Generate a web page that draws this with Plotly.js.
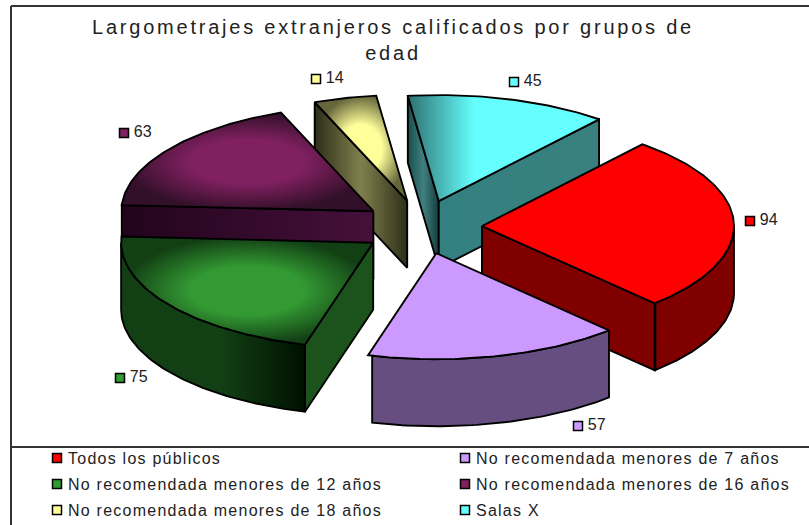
<!DOCTYPE html>
<html>
<head>
<meta charset="utf-8">
<script src="https://cdn.plot.ly/plotly-3.0.1.min.js"></script>
<style>
html,body{margin:0;padding:0;background:#fff;}
text[class*="legend"]{letter-spacing:1.24px;}
.legendsymbols{transform:translateX(9px);}
.gtitle{letter-spacing:2.78px;}
</style>
</head>
<body>
<div id="chart" style="width:809px;height:525px;"></div>
<script>
// ---- data ----
const categories = [
  "Todos los públicos",
  "No recomendada menores de 7 años",
  "No recomendada menores de 12 años",
  "No recomendada menores de 16 años",
  "No recomendada menores de 18 años",
  "Salas X"
];
const values = [94, 57, 75, 63, 14, 45];
const titleLines = ["Largometrajes extranjeros calificados por grupos de", "edad"];

// ---- styles ----
const swatch = ["#ff0000", "#cc99ff", "#339933", "#802060", "#ffff99", "#66ffff"];
const topEdge = ["#ff0000", "#cc99ff", "#123f14", "#331029", "#66663d", "#2e7070"];
const arcWall = [
  [[0, "#800000"], [1, "#800000"]],
  [[0, "#664e80"], [1, "#664e80"]],
  [[0, "#123f14"], [0.55, "#123f14"], [1, "#001000"]],
  [[0, "#000"], [1, "#000"]],
  [[0, "#000"], [1, "#000"]],
  [[0, "#000"], [1, "#000"]]
];
const startWall = [
  [[0, "#800000"], [1, "#800000"]],
  [[0, "#664e80"], [1, "#664e80"]],
  [[0, "#1c521c"], [1, "#1c521c"]],
  [[0, "#22041c"], [1, "#45103a"]],
  [[0, "#2e2e1a"], [0.5, "#80804d"], [1, "#2e2e1a"]],
  [[0, "#1a4d4d"], [0.5, "#408080"], [1, "#143c3c"]]
];
const endWall = [
  [[0, "#800000"], [1, "#800000"]],
  [[0, "#664e80"], [1, "#664e80"]],
  [[0, "#1c521c"], [1, "#1c521c"]],
  [[0, "#45103a"], [1, "#45103a"]],
  [[0, "#80804d"], [1, "#80804d"]],
  [[0, "#338080"], [1, "#3a8080"]]
];
const drawOrder = [5, 4, 3, 2, 0, 1];
const labelX = [750, 578, 120, 124, 316, 514];
const labelY = [221, 426, 378, 133, 79, 82];
const legendColumn = ["legend", "legend2", "legend", "legend2", "legend", "legend2"];

// ---- pie projection (in the axis units of the hidden axes) ----
const cx = 422, cy = 227, rx = 252, ry = 106, depth = 67, pullX = 60, pullY = 27;
const startAngle = 50.5;
const rad = d => d * Math.PI / 180;
const total = values.reduce((a, b) => a + b, 0);

const traces = [];
function poly(xs, ys, grad, flat) {
  const t = {
    type: "scatter", mode: "lines", x: xs, y: ys, fill: "toself",
    line: {color: "#000", width: 1.9}, hoverinfo: "skip", showlegend: false
  };
  if (grad) t.fillgradient = grad; else t.fillcolor = flat;
  traces.push(t);
}
const spanOf = [];
let acc = startAngle;
values.forEach(v => { const s = v / total * 360; spanOf.push([acc, acc - s]); acc -= s; });

drawOrder.forEach(i => {
  const [a0, a1] = spanOf[i];
  const mid = rad((a0 + a1) / 2);
  const ox = cx + pullX * Math.cos(mid), oy = cy - pullY * Math.sin(mid);
  const px = a => ox + rx * Math.cos(rad(a));
  const py = a => oy - ry * Math.sin(rad(a));
  const hg = (cs, xa, xb) => ({type: "horizontal", colorscale: cs, start: Math.min(xa, xb), stop: Math.max(xa, xb)});
  const side = (a, cs) => {
    const xs = [ox, px(a), px(a), ox, ox], ys = [oy, py(a), py(a) + depth, oy + depth, oy];
    poly(xs, ys, hg(cs, ox, px(a)));
  };
  // radial faces turned towards the viewer
  if (Math.cos(rad(a0)) < 0) side(a0, startWall[i]);
  if (Math.cos(rad(a1)) > 0) side(a1, endWall[i]);
  // outer wall: the part of the rim in the front half
  const front = [];
  for (let a = a0; a >= a1 - 1e-6; a -= 1) {
    if (Math.sin(rad(a)) < 0) front.push(a);
  }
  if (front.length > 1) {
    const xs = front.map(px).concat(front.slice().reverse().map(px));
    const ys = front.map(py).concat(front.slice().reverse().map(a => py(a) + depth));
    xs.push(xs[0]); ys.push(ys[0]);
    poly(xs, ys, hg(arcWall[i], Math.min(...xs), Math.max(...xs)));
  }
  // top face
  const tx = [ox], ty = [oy];
  for (let a = a0; a > a1; a -= 1) { tx.push(px(a)); ty.push(py(a)); }
  tx.push(px(a1), ox); ty.push(py(a1), oy);
  const flatTop = swatch[i] === topEdge[i];
  let grad = null;
  if (!flatTop) {
    grad = i === 5
      ? hg([[0, topEdge[i]], [0.35, swatch[i]], [1, swatch[i]]], Math.min(...tx), Math.max(...tx))
      : {type: "radial", colorscale: [[0, swatch[i]], [0.45, swatch[i]], [1, topEdge[i]]]};
  }
  poly(tx, ty, grad, swatch[i]);
});

// value labels
traces.push({
  type: "scatter", mode: "markers+text", x: labelX, y: labelY,
  text: values.map(v => "\u2009" + v), textposition: "middle right",
  textfont: {family: "Liberation Sans, Arial, sans-serif", size: 16, color: "#222"},
  marker: {symbol: "square", size: 9, color: swatch, line: {color: "#000", width: 1.5}},
  hoverinfo: "skip", showlegend: false, cliponaxis: false
});

// legend entries
categories.forEach((c, i) => traces.push({
  type: "scatter", mode: "markers", x: [null], y: [null], name: c, showlegend: true,
  legend: legendColumn[i], legendgroup: "g" + i,
  marker: {symbol: "square", size: 9, color: swatch[i], line: {color: "#000", width: 1.5}}
}));

const legendBase = {
  xanchor: "left", y: 1 - 441 / 525, yanchor: "top", traceorder: "grouped", tracegroupgap: 2.2,
  font: {family: "Liberation Sans, Arial, sans-serif", size: 16, color: "#222"},
  bgcolor: "rgba(0,0,0,0)"
};
const frame = {color: "#333", width: 2};
const layout = {
  width: 809, height: 525, autosize: false,
  margin: {l: 0, r: 0, t: 0, b: 0, autoexpand: false},
  paper_bgcolor: "#fff", plot_bgcolor: "#fff",
  title: {
    text: titleLines.join("<br>"),
    font: {family: "Liberation Sans, Arial, sans-serif", size: 20, color: "#222"},
    x: 393 / 809, xanchor: "center", y: 1 - 34 / 525, yanchor: "top"
  },
  xaxis: {range: [0, 809], visible: false, fixedrange: true},
  yaxis: {range: [525, 0], visible: false, fixedrange: true},
  legend: Object.assign({}, legendBase, {x: 28 / 809}),
  legend2: Object.assign({}, legendBase, {x: 436 / 809}),
  shapes: [
    {type: "line", xref: "x", yref: "y", x0: 11, x1: 809, y0: 6, y1: 6, line: frame},
    {type: "line", xref: "x", yref: "y", x0: 11, x1: 11, y0: 6, y1: 525, line: frame},
    {type: "line", xref: "x", yref: "y", x0: 11, x1: 809, y0: 447, y1: 447, line: frame}
  ]
};
Plotly.newPlot("chart", traces, layout, {displayModeBar: false, staticPlot: true});
</script>
</body>
</html>
